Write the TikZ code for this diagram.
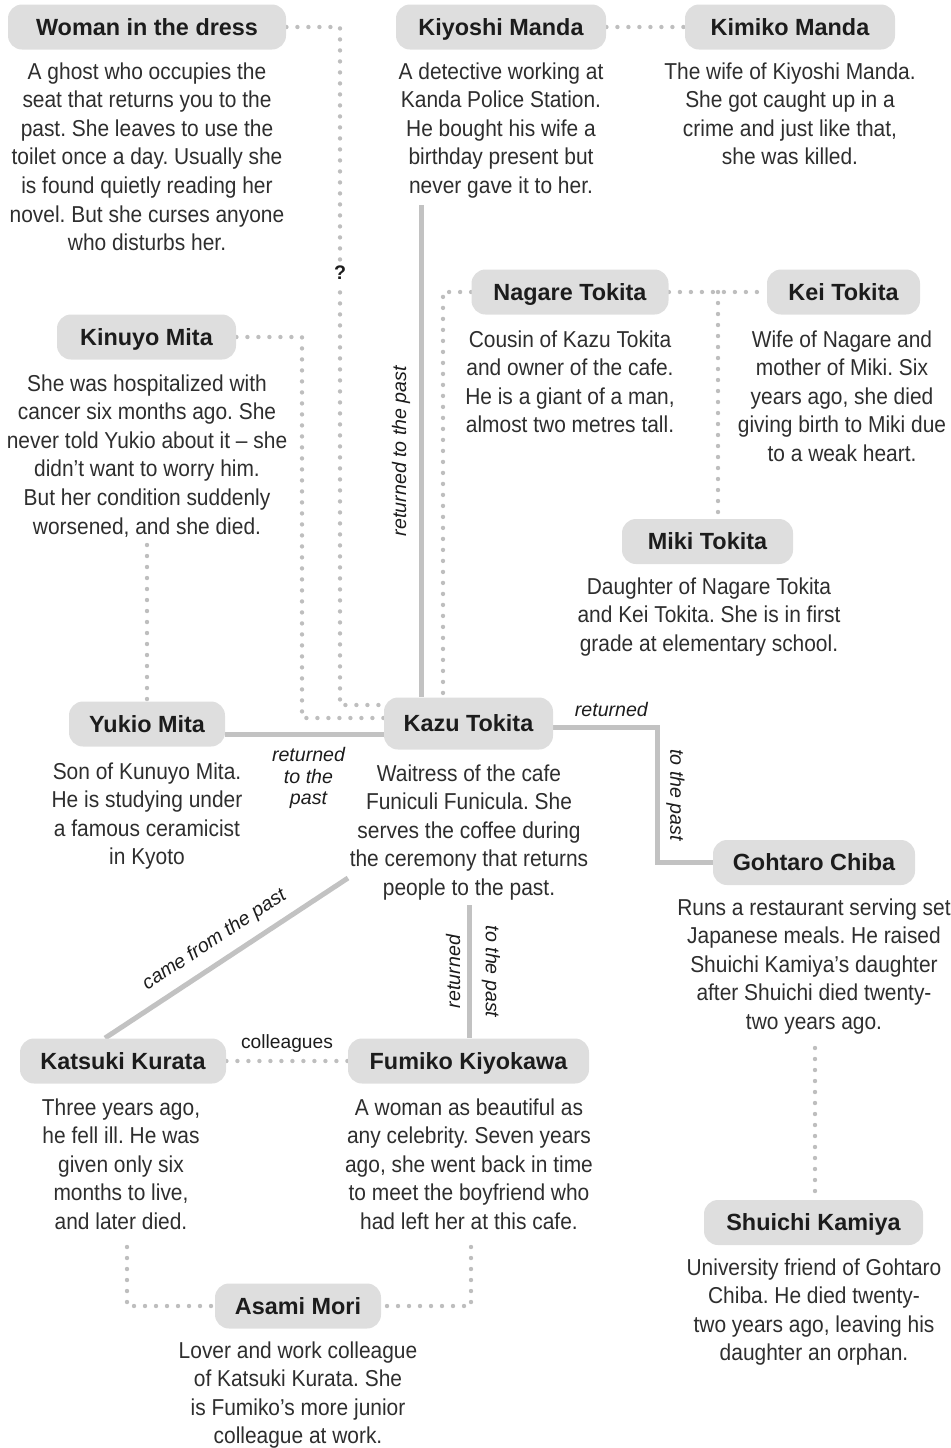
\documentclass[tikz,border=0pt]{standalone}
\usepackage{fontspec}
\setmainfont{Liberation Sans}
\newfontfamily\bodyfam[FakeStretch=0.91]{Liberation Sans}
\usetikzlibrary{backgrounds}
\definecolor{boxgray}{HTML}{DEDEDE}
\definecolor{linegray}{HTML}{C2C2C2}
\definecolor{dotgray}{HTML}{BEBEBE}
\definecolor{txt}{HTML}{2E2E2E}
\definecolor{ttl}{HTML}{1C1C1C}
\frenchspacing
\begin{document}
\begin{tikzpicture}[x=0.5pt,y=-0.5pt,
 namebox/.style={fill=boxgray, rounded corners=7pt, minimum height=22.5pt, inner sep=0pt, text height=8.4pt, text depth=0pt, font=\fontsize{11.7}{14}\selectfont\bfseries, text=ttl},
 desc/.style={align=center, anchor=north, inner sep=0pt, font=\bodyfam\fontsize{11.5}{14.3}\selectfont\frenchspacing, text=txt},
 rel/.style={draw=linegray, line width=2.5pt},
 dotrel/.style={draw=dotgray, line width=2.2pt, line cap=round, dash pattern=on 0pt off 5.5pt},
 lab/.style={font=\itshape\fontsize{9.8}{10.75}\selectfont, text=ttl, inner sep=0pt, align=center},
 plainlab/.style={font=\fontsize{9.6}{10}\selectfont, text=ttl, inner sep=0pt},
]
\useasboundingbox (0,0) rectangle (951,1448);

% name boxes
\node[namebox, minimum width=139pt] (wom) at (147,27) {Woman in the dress};
\node[namebox, minimum width=105pt] (kiy) at (501,27) {Kiyoshi Manda};
\node[namebox, minimum width=105pt] (kim) at (790,27) {Kimiko Manda};
\node[namebox, minimum width=98.5pt] (nag) at (570,292) {Nagare Tokita};
\node[namebox, minimum width=76.5pt] (kei) at (843.5,292) {Kei Tokita};
\node[namebox, minimum width=89.5pt] (kin) at (146.5,337) {Kinuyo Mita};
\node[namebox, minimum width=85.5pt] (mik) at (707.5,541.5) {Miki Tokita};
\node[namebox, minimum width=78pt] (yuk) at (147,724) {Yukio Mita};
\node[namebox, minimum width=84.5pt, minimum height=26pt] (kaz) at (468.5,723.5) {Kazu Tokita};
\node[namebox, minimum width=101pt] (goh) at (814,862.5) {Gohtaro Chiba};
\node[namebox, minimum width=103pt] (kat) at (123,1061) {Katsuki Kurata};
\node[namebox, minimum width=120.5pt] (fum) at (468.5,1061) {Fumiko Kiyokawa};
\node[namebox, minimum width=109.5pt] (shu) at (813.5,1222.5) {Shuichi Kamiya};
\node[namebox, minimum width=83pt] (asa) at (298,1306) {Asami Mori};

% descriptions
\node[desc] (womT) at (147,62) {A ghost who occupies the\\seat that returns you to the\\past. She leaves to use the\\toilet once a day. Usually she\\is found quietly reading her\\novel. But she curses anyone\\who disturbs her.};
\node[desc] (kiyT) at (501,62) {A detective working at\\Kanda Police Station.\\He bought his wife a\\birthday present but\\never gave it to her.};
\node[desc] (kimT) at (790,62) {The wife of Kiyoshi Manda.\\She got caught up in a\\crime and just like that,\\she was killed.};
\node[desc] (nagT) at (570,330) {Cousin of Kazu Tokita\\and owner of the cafe.\\He is a giant of a man,\\almost two metres tall.};
\node[desc] (keiT) at (842,330) {Wife of Nagare and\\mother of Miki. Six\\years ago, she died\\giving birth to Miki due\\to a weak heart.};
\node[desc] (kinT) at (147,374) {She was hospitalized with\\cancer six months ago. She\\never told Yukio about it – she\\didn’t want to worry him.\\But her condition suddenly\\worsened, and she died.};
\node[desc] (mikT) at (709,577) {Daughter of Nagare Tokita\\and Kei Tokita. She is in first\\grade at elementary school.};
\node[desc] (yukT) at (147,762) {Son of Kunuyo Mita.\\He is studying under\\a famous ceramicist\\in Kyoto};
\node[desc] (kazT) at (469,764) {Waitress of the cafe\\Funiculi Funicula. She\\serves the coffee during\\the ceremony that returns\\people to the past.};
\node[desc] (gohT) at (814,898) {Runs a restaurant serving set\\Japanese meals. He raised\\Shuichi Kamiya’s daughter\\after Shuichi died twenty-\\two years ago.};
\node[desc] (katT) at (121,1098) {Three years ago,\\he fell ill. He was\\given only six\\months to live,\\and later died.};
\node[desc] (fumT) at (469,1098) {A woman as beautiful as\\any celebrity. Seven years\\ago, she went back in time\\to meet the boyfriend who\\had left her at this cafe.};
\node[desc] (shuT) at (814,1258) {University friend of Gohtaro\\Chiba. He died twenty-\\two years ago, leaving his\\daughter an orphan.};
\node[desc] (asaT) at (298,1341) {Lover and work colleague\\of Katsuki Kurata. She\\is Fumiko’s more junior\\colleague at work.};

% free ends and bends
\coordinate (w1) at (340,27);
\coordinate (w2) at (340,705);
\coordinate (k1) at (302,337);
\coordinate (k2) at (302,718);
\coordinate (n1) at (443,292);
\coordinate (nk) at (718,292);
\coordinate (kinB) at (147,545);
\coordinate (gohB) at (815,1048);
\coordinate (katB) at (127,1247);
\coordinate (fumB) at (471,1247);
\coordinate (kiyB) at (421,205);
\coordinate (kazD) at (348,878);
\coordinate (kazB) at (469,905);

\begin{scope}[on background layer]
% dotted relations
\draw[dotrel] (wom.east) -- (w1) -- node[pos=0.363, fill=white, inner sep=2pt, font=\bfseries\fontsize{9.8}{10}\selectfont, text=ttl]{?} (w2) -- (w2 -| kaz.west);
\draw[dotrel] (kin.east) -- (k1) -- (k2) -- (k2 -| kaz.west);
\draw[dotrel] (kiy.east) -- (kim.west);
\draw[dotrel] (nag.west) -- (n1) -- (n1 |- kaz.north);
\draw[dotrel] (nag.east) -- (kei.west);
\draw[dotrel] (nk) -- (nk |- mik.north);
\draw[dotrel] (kinB) -- (yuk.north);
\draw[dotrel] (kat.east) -- node[plainlab, midway, yshift=8.5pt]{colleagues} (fum.west);
\draw[dotrel] (gohB) -- (gohB |- shu.north);
\draw[dotrel] (katB) -- (katB |- asa.west) -- (asa.west);
\draw[dotrel] (fumB) -- (fumB |- asa.east) -- (asa.east);
% solid relations
\draw[rel] (kiyB) -- node[lab, midway, xshift=-10pt, rotate=90]{returned to the past} (kiyB |- kaz.north);
\draw[rel] ([yshift=-5pt]yuk.east) -- node[lab, midway, anchor=north, yshift=-5.5pt, xshift=2pt]{returned\\to the\\past} ([yshift=-5pt]yuk.east -| kaz.west);
\draw[rel] ([yshift=-2pt]kaz.east) -- node[lab, midway, xshift=3pt, yshift=9pt]{returned} ++(52pt,0) coordinate (kg) -- node[lab, midway, xshift=9pt, rotate=-90]{to the past} (kg |- goh.west) -- (goh.west);
\draw[rel] ([xshift=-9pt]kat.north) -- node[lab, pos=0.5, sloped, above=5pt]{came from the past} (kazD);
\draw[rel] (kazB) -- node[lab, midway, xshift=-8pt, rotate=90]{returned} node[lab, midway, xshift=11pt, rotate=-90]{to the past} (kazB |- fum.north);
\end{scope}
\end{tikzpicture}
\end{document}
